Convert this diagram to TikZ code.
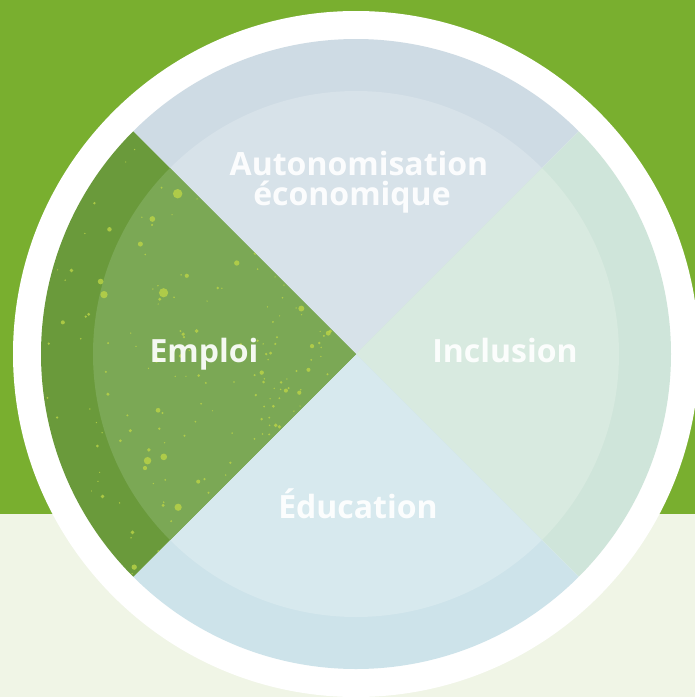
\documentclass[tikz,border=0pt]{standalone}
\usepackage{fontspec}
\setmainfont{Open Sans}
\definecolor{bggreen}{HTML}{79AF2F}
\definecolor{cream}{HTML}{F0F5E6}
\definecolor{topout}{HTML}{CEDBE4}
\definecolor{topin}{HTML}{D7E2E9}
\definecolor{rightout}{HTML}{CFE5DA}
\definecolor{rightin}{HTML}{D8EAE0}
\definecolor{botout}{HTML}{CDE3EA}
\definecolor{botin}{HTML}{D7E9EE}
\definecolor{leftout}{HTML}{6A9A3B}
\definecolor{leftin}{HTML}{7BA855}
\definecolor{speck}{HTML}{BBD447}
\tikzset{
  label/.style={text=white, text opacity=0.92, font=\fontsize{32}{36}\selectfont\bfseries, inner sep=0pt, anchor=base},
}
\begin{document}
\begin{tikzpicture}[x=1pt,y=-1pt]
\useasboundingbox (0,0) rectangle (695,697);
\fill[bggreen] (0,0) rectangle (695,514);
\fill[cream] (0,514) rectangle (695,697);
\coordinate (c) at (356,354);
\fill[white] (c) circle (343);
% sectors: top 225-315, right -45..45, bottom 45..135, left 135..225
\foreach \a/\b/\co/\ci in {225/315/topout/topin, -45/45/rightout/rightin, 45/135/botout/botin, 135/225/leftout/leftin}{
  \fill[\co] (c) -- ++(\a:315) arc[start angle=\a, end angle=\b, radius=315] -- cycle;
  \fill[\ci] (c) -- ++(\a:263) arc[start angle=\a, end angle=\b, radius=263] -- cycle;
}
% speckles in Emploi quadrant
\begin{scope}
\clip (c) -- ++(135:315) arc[start angle=135, end angle=225, radius=315] -- cycle;
\pgfmathsetseed{11}
\foreach \i in {1,...,160}{
  \pgfmathsetmacro{\ang}{135+90*rnd}
  \pgfmathsetmacro{\rr}{30+285*rnd}
  \pgfmathsetmacro{\sz}{0.7+1.6*rnd*rnd*rnd*4}
  \fill[speck, opacity=0.8] (c) ++(\ang:\rr) circle (\sz);
}
\end{scope}
\node[label] (auto) at (359,175) {Autonomisation};
\node[label] (eco) at (352,205) {économique};
\node[label] (emploi) at (204,362) {Emploi};
\node[label] (incl) at (505,362) {Inclusion};
\node[label] (educ) at (358,518) {Éducation};
\end{tikzpicture}
\end{document}
